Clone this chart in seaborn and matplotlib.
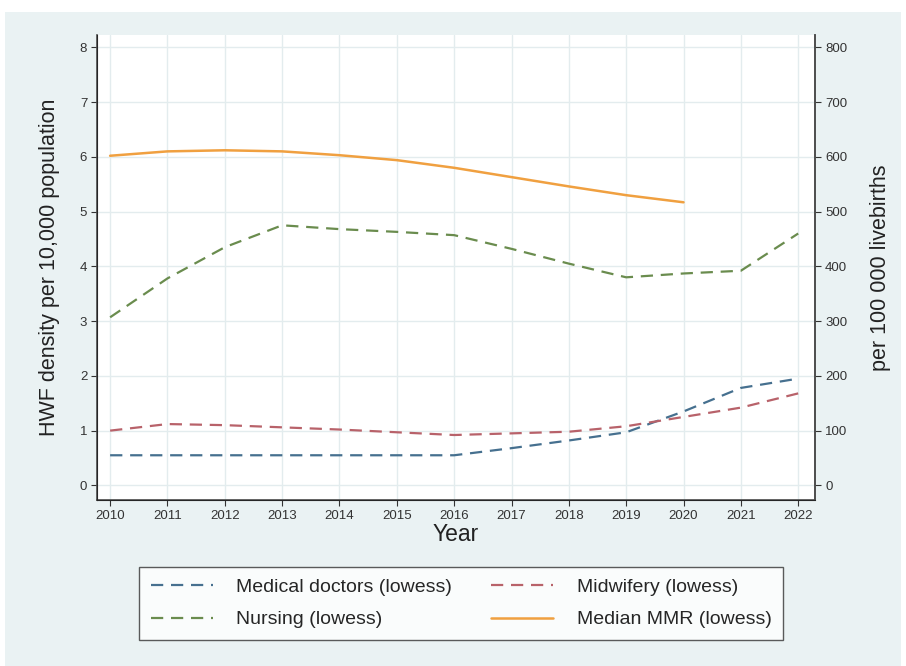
import numpy as np
import pandas as pd
import matplotlib
matplotlib.use("Agg")
import matplotlib.pyplot as plt
import seaborn as sns

# data (lowess smoothed values)
years = [2010, 2011, 2012, 2013, 2014, 2015, 2016, 2017, 2018, 2019, 2020, 2021, 2022]
doctors = [0.55, 0.55, 0.55, 0.55, 0.55, 0.55, 0.55, 0.68, 0.82, 0.97, 1.35, 1.78, 1.95]
midwifery = [1.00, 1.12, 1.10, 1.06, 1.02, 0.97, 0.92, 0.95, 0.98, 1.08, 1.25, 1.42, 1.68]
nursing = [3.07, 3.78, 4.35, 4.75, 4.68, 4.63, 4.57, 4.32, 4.05, 3.80, 3.87, 3.92, 4.60]
mmr_years = [2010, 2011, 2012, 2013, 2014, 2015, 2016, 2017, 2018, 2019, 2020]
mmr = [602, 610, 612, 610, 603, 594, 580, 563, 546, 530, 517]

left_ticks = [0, 1, 2, 3, 4, 5, 6, 7, 8]
right_ticks = [0, 100, 200, 300, 400, 500, 600, 700, 800]

sns.set_style("white")
plt.rcParams['font.family'] = ['Liberation Sans', 'DejaVu Sans']

bg = "#eaf2f3"
grid_c = "#e3ecee"
axis_c = "#4d4d4d"
c_doc = "#46708f"
c_mid = "#b8626a"
c_nur = "#6a8c4e"
c_mmr = "#f0a040"

fig = plt.figure(figsize=(9.06, 6.66), dpi=100, facecolor="white")
fig.patches.append(plt.Rectangle((0.005, 0.0), 0.99, 0.982, transform=fig.transFigure,
                                 facecolor=bg, edgecolor="none", zorder=-10))
ax = fig.add_axes([0.107, 0.249, 0.793, 0.698])
ax.set_facecolor("white")

df = pd.DataFrame({"year": years, "doctors": doctors, "midwifery": midwifery, "nursing": nursing})
sns.lineplot(data=df, x="year", y="doctors", ax=ax, color=c_doc, lw=1.6,
             label="Medical doctors (lowess)", legend=False)
sns.lineplot(data=df, x="year", y="midwifery", ax=ax, color=c_mid, lw=1.6,
             label="Midwifery (lowess)", legend=False)
sns.lineplot(data=df, x="year", y="nursing", ax=ax, color=c_nur, lw=1.6,
             label="Nursing (lowess)", legend=False)
for ln in ax.lines:
    ln.set_linestyle((0, (5.5, 3.5)))

ax.set_xlim(2009.77, 2022.3)
ax.set_ylim(-0.27, 8.22)
ax.set_xticks(years)
ax.set_yticks(left_ticks)
ax.grid(True, color=grid_c, lw=1.0)
ax.tick_params(axis="both", labelsize=9.5, colors="#333333", length=4, width=0.8, direction="out",
               left=True, bottom=True, pad=3)
ax.spines["top"].set_visible(False)
for side in ["left", "bottom", "right"]:
    ax.spines[side].set_color(axis_c)
    ax.spines[side].set_linewidth(1.2)
ax.set_xlabel("Year", fontsize=16.5, labelpad=1, color="#222222")
ax.set_ylabel("HWF density per 10,000 population", fontsize=15.5, color="#222222", labelpad=14)

ax2 = ax.twinx()
mdf = pd.DataFrame({"year": mmr_years, "mmr": mmr})
sns.lineplot(data=mdf, x="year", y="mmr", ax=ax2, color=c_mmr, lw=1.8,
             label="Median MMR (lowess)", legend=False)
ax2.set_ylim(-27, 822)
ax2.set_yticks(right_ticks)
ax2.tick_params(axis="y", labelsize=9.5, colors="#333333", length=4, width=0.8, direction="out",
                right=True, pad=3)
ax2.spines["top"].set_visible(False)
ax2.spines["right"].set_color(axis_c)
ax2.spines["right"].set_linewidth(1.2)
ax2.set_ylabel("per 100 000 livebirths", fontsize=15.5, color="#222222", labelpad=16)

# column-wise fill -> order so rows read doctors/midwifery, nursing/MMR
handles = [ax.lines[0], ax.lines[2], ax.lines[1], ax2.lines[0]]
labels = ["Medical doctors (lowess)", "Nursing (lowess)", "Midwifery (lowess)", "Median MMR (lowess)"]
leg = fig.legend(handles, labels, ncol=2, loc="lower center",
                 bbox_to_anchor=(0.509, 0.039), fontsize=14, handlelength=3.2,
                 handletextpad=1.2, columnspacing=2.0, labelspacing=0.75,
                 frameon=True, fancybox=False, edgecolor="#333333",
                 borderpad=0.6, borderaxespad=0)
leg.get_frame().set_linewidth(1.0)

fig.savefig("out.png", dpi=100, facecolor="white")
